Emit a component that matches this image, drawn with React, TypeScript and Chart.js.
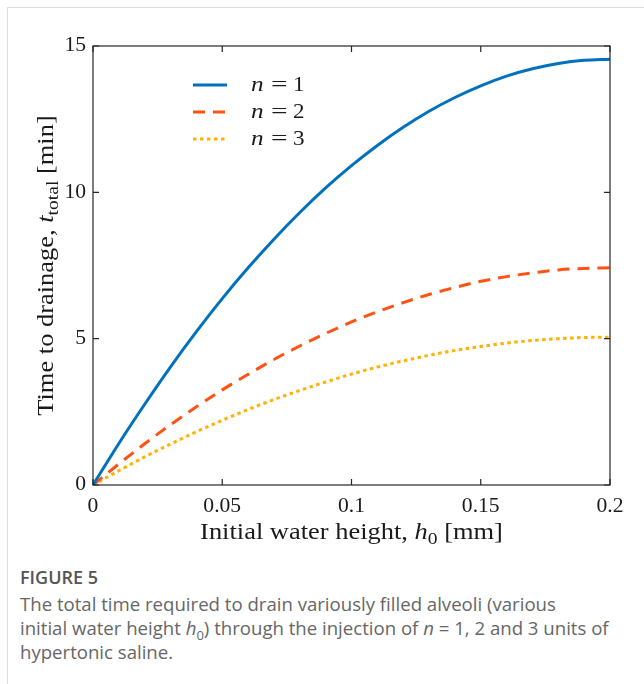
import React, { useEffect, useRef } from "react";
import { Chart, registerables } from "chart.js";

Chart.register(...registerables);

const hValues = [0, 0.01, 0.02, 0.03, 0.04, 0.05, 0.06, 0.07, 0.08, 0.09, 0.1, 0.11, 0.12, 0.13, 0.14, 0.15, 0.16, 0.17, 0.18, 0.19, 0.2];
const n1Values = [0, 1.42, 2.76, 4.04, 5.24, 6.37, 7.42, 8.4, 9.31, 10.15, 10.91, 11.6, 12.22, 12.77, 13.24, 13.64, 13.97, 14.22, 14.4, 14.51, 14.55];
const n2Values = [0, 0.72, 1.41, 2.06, 2.67, 3.25, 3.78, 4.29, 4.75, 5.18, 5.57, 5.92, 6.23, 6.51, 6.75, 6.96, 7.12, 7.25, 7.35, 7.4, 7.42];
const n3Values = [0, 0.49, 0.96, 1.4, 1.82, 2.21, 2.58, 2.92, 3.23, 3.52, 3.79, 4.03, 4.24, 4.43, 4.6, 4.73, 4.85, 4.94, 5.0, 5.04, 5.05];
const seriesLabels = ["1", "2", "3"];
const xTicks = [0, 0.05, 0.1, 0.15, 0.2];
const xTickLabels = ["0", "0.05", "0.1", "0.15", "0.2"];
const yTicks = [0, 5, 10, 15];
const yTickLabels = ["0", "5", "10", "15"];

const COLORS = ["#0072BD", "#FF5314", "#FFB300"];
const DASHES = [[], [12, 8], [3.5, 3.5]];
const SERIF = '"Liberation Serif", "DejaVu Serif", serif';
const AXIS = "#262626";
const WIDEN = 1.15;

type Seg = { t: string; italic?: boolean; sub?: boolean };

function drawSegs(ctx: CanvasRenderingContext2D, segs: Seg[], cx: number, cy: number, size: number) {
  const fontFor = (s: Seg) => `${s.italic ? "italic " : ""}${s.sub ? Math.round(size * 0.72) : size}px ${SERIF}`;
  let total = 0;
  for (const s of segs) {
    ctx.font = fontFor(s);
    total += ctx.measureText(s.t).width;
  }
  ctx.save();
  ctx.translate(cx, cy);
  ctx.scale(WIDEN, 1);
  let x = -total / 2;
  ctx.textAlign = "left";
  ctx.textBaseline = "alphabetic";
  for (const s of segs) {
    ctx.font = fontFor(s);
    ctx.fillText(s.t, x, s.sub ? size * 0.22 : 0);
    x += ctx.measureText(s.t).width;
  }
  ctx.restore();
}

function wideText(ctx: CanvasRenderingContext2D, t: string, x: number, y: number, k: number) {
  ctx.save();
  ctx.translate(x, y);
  ctx.scale(k, 1);
  ctx.fillText(t, 0, 0);
  ctx.restore();
}

const framePlugin = {
  id: "matlabFrame",
  afterDraw(chart: any) {
    const ctx: CanvasRenderingContext2D = chart.ctx;
    const { left, right, top, bottom } = chart.chartArea;
    const xs = chart.scales.x;
    const ys = chart.scales.y;
    ctx.save();
    ctx.strokeStyle = AXIS;
    ctx.lineWidth = 1.2;
    ctx.setLineDash([]);
    ctx.strokeRect(left, top, right - left, bottom - top);
    const tl = 6;
    ctx.beginPath();
    xTicks.forEach((v) => {
      const px = xs.getPixelForValue(v);
      ctx.moveTo(px, bottom);
      ctx.lineTo(px, bottom - tl);
      ctx.moveTo(px, top);
      ctx.lineTo(px, top + tl);
    });
    yTicks.forEach((v) => {
      const py = ys.getPixelForValue(v);
      ctx.moveTo(left, py);
      ctx.lineTo(left + tl, py);
      ctx.moveTo(right, py);
      ctx.lineTo(right - tl, py);
    });
    ctx.stroke();
    // tick labels
    ctx.fillStyle = "#1a1a1a";
    ctx.font = `20px ${SERIF}`;
    ctx.textAlign = "center";
    ctx.textBaseline = "top";
    xTicks.forEach((v, i) => {
      wideText(ctx, xTickLabels[i], xs.getPixelForValue(v), bottom + 12, 1.08);
    });
    ctx.textAlign = "right";
    ctx.textBaseline = "middle";
    yTicks.forEach((v, i) => {
      wideText(ctx, yTickLabels[i], left - 7, ys.getPixelForValue(v), 1.08);
    });
    // x label
    drawSegs(
      ctx,
      [
        { t: "Initial water height, " },
        { t: "h", italic: true },
        { t: "0", sub: true },
        { t: " [mm]" },
      ],
      (left + right) / 2,
      bottom + 54,
      23
    );
    // y label
    ctx.save();
    ctx.translate(left - 48, (top + bottom) / 2);
    ctx.rotate(-Math.PI / 2);
    drawSegs(
      ctx,
      [
        { t: "Time to drainage, " },
        { t: "t", italic: true },
        { t: "total", sub: true },
        { t: " [min]" },
      ],
      0,
      8,
      23
    );
    ctx.restore();
    // legend
    const lx0 = left + 100;
    const lx1 = left + 134;
    const rows = [top + 39, top + 66, top + 93];
    seriesLabels.forEach((lab, i) => {
      const y = rows[i];
      ctx.strokeStyle = COLORS[i];
      ctx.lineWidth = 3;
      ctx.setLineDash(DASHES[i]);
      ctx.lineCap = "butt";
      ctx.beginPath();
      ctx.moveTo(lx0, y);
      ctx.lineTo(lx1, y);
      ctx.stroke();
      ctx.setLineDash([]);
      ctx.fillStyle = "#1a1a1a";
      ctx.textAlign = "left";
      ctx.textBaseline = "middle";
      const x = left + 158;
      ctx.font = `italic 21px ${SERIF}`;
      wideText(ctx, "n", x, y, 1.2);
      ctx.font = `21px ${SERIF}`;
      wideText(ctx, "=", x + 20, y, 1.4);
      wideText(ctx, lab, x + 42, y, 1.1);
    });
    ctx.restore();
  },
};

export default function App() {
  const ref = useRef<HTMLCanvasElement | null>(null);
  useEffect(() => {
    if (!ref.current) return;
    const mk = (vals: number[]) => hValues.map((h, i) => ({ x: h, y: vals[i] }));
    const chart = new Chart(ref.current, {
      type: "line",
      data: {
        datasets: [n1Values, n2Values, n3Values].map((vals, i) => ({
          label: "n = " + seriesLabels[i],
          data: mk(vals),
          borderColor: COLORS[i],
          borderWidth: 3,
          borderDash: DASHES[i],
          borderCapStyle: "butt" as const,
          pointRadius: 0,
          fill: false,
          cubicInterpolationMode: "monotone" as const,
        })),
      },
      options: {
        animation: false,
        responsive: false,
        maintainAspectRatio: false,
        layout: { padding: { left: 93, right: 34, top: 46, bottom: 65 } },
        plugins: { legend: { display: false }, tooltip: { enabled: false }, title: { display: false } },
        scales: {
          x: { type: "linear", min: 0, max: 0.2, display: false },
          y: { type: "linear", min: 0, max: 15, display: false },
        },
      },
      plugins: [framePlugin],
    });
    return () => chart.destroy();
  }, []);

  return (
    <div style={{ position: "absolute", left: 0, top: 0, width: 644, height: 684, overflow: "hidden", background: "#fff" }}>
      <div
        style={{
          position: "absolute",
          left: 7,
          top: 7,
          width: 700,
          height: 700,
          border: "1px solid #dedede",
        }}
      />
      <canvas ref={ref} width={644} height={550} style={{ position: "absolute", left: 0, top: 0, width: 644, height: 550 }} />
      <div
        style={{
          position: "absolute",
          left: 20,
          top: 564,
          width: 620,
          whiteSpace: "nowrap",
          fontFamily: '"Open Sans", "Noto Sans", sans-serif',
          color: "#666",
        }}
      >
        <div style={{ fontSize: 18, fontWeight: 600, color: "#555", lineHeight: "26px" }}>FIGURE 5</div>
        <div style={{ fontSize: 18.6, lineHeight: "24px", marginTop: 2 }}>
          The total time required to drain variously filled alveoli (various
          <br />
          initial water height <i>h</i>
          <sub style={{ fontSize: 13, lineHeight: 0 }}>0</sub>) through the injection of <i>n</i> = 1, 2 and 3 units of
          <br />
          hypertonic saline.
        </div>
      </div>
    </div>
  );
}
